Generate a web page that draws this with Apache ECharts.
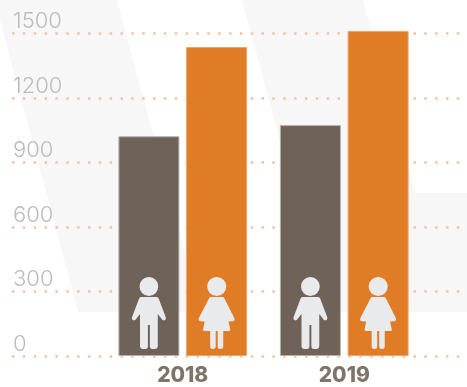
<!DOCTYPE html>
<html>
<head>
<meta charset="utf-8">
<style>html,body{margin:0;padding:0;background:#fff}#chart{width:467px;height:387px}</style>
<script src="https://cdn.jsdelivr.net/npm/echarts@6/dist/echarts.min.js"></script>
</head>
<body>
<div id="chart"></div>
<script>
// Visitors per year, split by men and women
const years = ['2018', '2019'];
const men = [1022, 1074];
const women = [1437, 1512];
const yTicks = [0, 300, 600, 900, 1200, 1500];

// Person pictograms, each in a box about 34-36 wide and 72 tall
const manIcon = 'path://M17 0a9.500 9.500 0 1 1-.01 0zM9.500 20h15c1.200 0 2 .6 2.500 1.800L34 40c.6 1.600 0 2.900-1.200 3.300-1.200.4-2.200-.1-2.800-1.300L26 37v32c0 1.800-1.300 3-3 3h-2.500c-1.700 0-2.500-1.200-2.500-3V48h-2v21c0 1.800-.8 3-2.500 3H11c-1.700 0-3-1.200-3-3V37l-4 5c-.6 1.200-1.600 1.700-2.800 1.300C0 42.900-.6 41.600 0 40l7-18.200C7.500 20.600 8.300 20 9.500 20z';
const womanIcon = 'path://M18 0a9.500 9.500 0 1 1-.01 0zM12.500 20h11c1 0 1.700.5 2.200 1.400L35.500 41c.8 1.700-.1 3.200-1.700 3.300l-4 .2L31.500 52.500c.2.8-.3 1.500-1.200 1.500H24.500v15.500c0 1.500-1 2.500-2.300 2.500h-.9c-1.300 0-2.300-1-2.300-2.500V54h-2v15.500c0 1.500-1 2.500-2.300 2.500h-.9c-1.300 0-2.300-1-2.300-2.500V54H5.700c-.9 0-1.400-.7-1.200-1.500L6 44.500l-4-.2C.4 44.200-.5 42.700.3 41L10.300 21.400C10.800 20.500 11.500 20 12.500 20z';

const chart = echarts.init(document.getElementById('chart'), null, { renderer: 'canvas' });

const barCommon = { type: 'bar', xAxisIndex: 1, yAxisIndex: 1, barWidth: 61, barGap: '11%', clip: false, z: 3 };
const iconCommon = {
  type: 'pictorialBar', xAxisIndex: 1, yAxisIndex: 1, barWidth: 61, barGap: '11%',
  symbolPosition: 'start', symbolOffset: [0, -7], clip: false, z: 4, silent: true
};

chart.setOption({
  animation: false,
  backgroundColor: '#fff',
  // Pale oversized letterform behind the plot
  graphic: [
    { type: 'polygon', z: -10, silent: true, shape: { points: [[0, 0], [117, 0], [201, 312], [78, 312], [0, 20]] }, style: { fill: '#f7f7f7' } },
    { type: 'polygon', z: -10, silent: true, shape: { points: [[242, 0], [363, 0], [415, 193], [467, 193], [467, 312], [326, 312]] }, style: { fill: '#f7f7f7' } }
  ],
  grid: [
    // Full-width grid carrying the dotted rules and the value labels
    { left: 12, right: 0, top: 33.500, bottom: 31 },
    // Narrower grid the two year groups sit in
    { left: 102, width: 323, top: 33.500, bottom: 31 }
  ],
  xAxis: [
    { type: 'category', gridIndex: 0, data: years, show: false },
    {
      type: 'category', gridIndex: 1, data: years,
      axisLine: { show: false }, axisTick: { show: false },
      axisLabel: { color: '#7f746a', fontFamily: 'Inter', fontWeight: 800, fontSize: 21, margin: 9 }
    }
  ],
  yAxis: [
    {
      type: 'value', gridIndex: 0, min: 0, max: 1500, interval: 300,
      axisLine: { show: false }, axisTick: { show: false },
      axisLabel: {
        inside: true, verticalAlign: 'bottom', margin: 1,
        color: '#bdbbb9', fontFamily: 'Inter', fontWeight: 300, fontSize: 22, lineHeight: 24,
        formatter: v => yTicks.includes(v) ? String(v) : ''
      },
      splitLine: { show: true, lineStyle: { color: '#f4c49a', width: 2.500, type: [2.500, 8.350] } }
    },
    { type: 'value', gridIndex: 1, min: 0, max: 1500, interval: 300, show: false, splitLine: { show: false } }
  ],
  series: [
    { ...barCommon, name: 'Men', data: men, itemStyle: { color: '#6f6359', borderColor: '#b5b0ab', borderWidth: 1 } },
    { ...barCommon, name: 'Women', data: women, itemStyle: { color: '#e07b26', borderColor: '#eea468', borderWidth: 1 } },
    { ...iconCommon, name: 'Men icon', data: men, symbol: manIcon, symbolSize: [34, 72], itemStyle: { color: '#e9eaec' } },
    { ...iconCommon, name: 'Women icon', data: women, symbol: womanIcon, symbolSize: [36, 72], itemStyle: { color: '#e9eaec' } }
  ]
});
</script>
</body>
</html>
